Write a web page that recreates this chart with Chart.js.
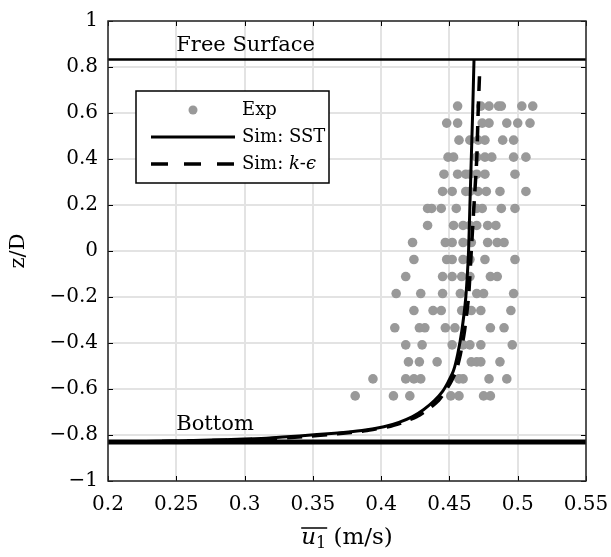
<!DOCTYPE html>
<html>
<head>
<meta charset="utf-8">
<script src="https://cdn.jsdelivr.net/npm/chart.js@4.4.1/dist/chart.umd.min.js"></script>
<style>
  html, body { margin: 0; padding: 0; background: #ffffff; }
  #wrap { width: 611px; height: 557px; }
</style>
</head>
<body>
<div id="wrap"><canvas id="c" width="611" height="557"></canvas></div>
<script>
// ---------- data ----------
const xTicks = [0.2, 0.25, 0.3, 0.35, 0.4, 0.45, 0.5, 0.55];
const yTicks = [-1, -0.8, -0.6, -0.4, -0.2, 0, 0.2, 0.4, 0.6, 0.8, 1];

// experimental rows (z/D) and velocities measured in each row
const expZ = [0.630, 0.556, 0.482, 0.408, 0.334, 0.259, 0.185, 0.111, 0.037,
              -0.037, -0.111, -0.185, -0.259, -0.334, -0.408, -0.482, -0.556, -0.630];
const expU = [
  [0.456, 0.473, 0.479, 0.486, 0.488, 0.503, 0.511],
  [0.448, 0.456, 0.474, 0.479, 0.492, 0.500, 0.509],
  [0.457, 0.465, 0.471, 0.476, 0.489, 0.497],
  [0.449, 0.453, 0.470, 0.476, 0.481, 0.497, 0.506],
  [0.446, 0.456, 0.462, 0.465, 0.470, 0.476, 0.498],
  [0.445, 0.452, 0.462, 0.465, 0.471, 0.477, 0.487, 0.506],
  [0.434, 0.437, 0.444, 0.455, 0.470, 0.474, 0.488, 0.498],
  [0.434, 0.453, 0.460, 0.465, 0.470, 0.478, 0.484],
  [0.423, 0.447, 0.452, 0.460, 0.466, 0.478, 0.485, 0.490],
  [0.424, 0.448, 0.452, 0.460, 0.465, 0.476, 0.498],
  [0.418, 0.445, 0.452, 0.459, 0.465, 0.480, 0.485],
  [0.411, 0.429, 0.445, 0.458, 0.470, 0.475, 0.497],
  [0.424, 0.438, 0.444, 0.459, 0.466, 0.473, 0.495],
  [0.410, 0.428, 0.432, 0.447, 0.454, 0.480, 0.490],
  [0.418, 0.430, 0.452, 0.460, 0.465, 0.473, 0.496],
  [0.420, 0.428, 0.441, 0.466, 0.470, 0.473, 0.487],
  [0.394, 0.418, 0.424, 0.429, 0.457, 0.460, 0.479, 0.492],
  [0.381, 0.409, 0.421, 0.451, 0.457, 0.475, 0.480]
];

// SST simulation profile
const sstZ = [0.833, 0.6, 0.4, 0.2, 0.0, -0.2, -0.35, -0.45, -0.52, -0.57, -0.61, -0.65, -0.69,
              -0.72, -0.745, -0.764, -0.78, -0.792, -0.804, -0.814, -0.819, -0.822, -0.826, -0.829, -0.83];
const sstU = [0.468, 0.467, 0.466, 0.465, 0.464, 0.462, 0.459, 0.456, 0.453, 0.449, 0.445, 0.439, 0.431,
              0.423, 0.413, 0.402, 0.386, 0.366, 0.340, 0.316, 0.295, 0.275, 0.250, 0.220, 0.200];

// k-epsilon simulation profile
const keZ = [0.76, 0.6, 0.4, 0.2, 0.0, -0.2, -0.35, -0.45, -0.52, -0.57, -0.61, -0.65, -0.69,
             -0.72, -0.745, -0.764, -0.782, -0.795, -0.807, -0.816, -0.822, -0.826, -0.829, -0.831];
const keU = [0.472, 0.471, 0.470, 0.468, 0.466, 0.464, 0.461, 0.458, 0.455, 0.451, 0.447, 0.442, 0.434,
             0.426, 0.416, 0.405, 0.388, 0.368, 0.343, 0.318, 0.290, 0.260, 0.230, 0.200];

// reference levels
const surfaceZ = 0.833;
const bottomZ = -0.83;
const levelU = [0.2, 0.55];

const seriesLabels = ['Exp', 'Sim: SST', 'Sim: k-\u03F5'];
const levelLabels = ['Free Surface', 'Bottom'];

// ---------- build ----------
const FONT = '"DejaVu Serif", "Liberation Serif", serif';
const expPts = [];
expZ.forEach((z, i) => expU[i].forEach(u => expPts.push({x: u, y: z})));
const sstPts = sstZ.map((z, i) => ({x: sstU[i], y: z}));
const kePts = keZ.map((z, i) => ({x: keU[i], y: z}));
const surfPts = levelU.map(u => ({x: u, y: surfaceZ}));
const botPts = levelU.map(u => ({x: u, y: bottomZ}));

function fmt(v) {
  const r = Math.round(v * 100) / 100;
  if (r === 0) return '0';
  const s = String(Math.abs(r));
  return (r < 0 ? '\u2212' : '') + s;
}

const boxPlugin = {
  id: 'boxPlugin',
  afterDatasetsDraw(chart) {
    const {ctx, chartArea: a, scales} = chart;
    ctx.save();
    // inward ticks
    ctx.strokeStyle = '#000';
    ctx.lineWidth = 1;
    const tl = 5;
    xTicks.forEach(v => {
      const px = Math.round(scales.x.getPixelForValue(v)) + 0.5;
      ctx.beginPath();
      ctx.moveTo(px, a.bottom); ctx.lineTo(px, a.bottom - tl);
      ctx.moveTo(px, a.top); ctx.lineTo(px, a.top + tl);
      ctx.stroke();
    });
    yTicks.forEach(v => {
      const py = Math.round(scales.y.getPixelForValue(v)) + 0.5;
      ctx.beginPath();
      ctx.moveTo(a.left, py); ctx.lineTo(a.left + tl, py);
      ctx.moveTo(a.right, py); ctx.lineTo(a.right - tl, py);
      ctx.stroke();
    });
    // frame
    ctx.lineWidth = 1.5;
    ctx.strokeStyle = '#262626';
    ctx.strokeRect(a.left, a.top, a.right - a.left, a.bottom - a.top);

    // level labels
    ctx.fillStyle = '#000';
    ctx.font = '21px ' + FONT;
    ctx.textBaseline = 'alphabetic';
    ctx.textAlign = 'left';
    const lx = scales.x.getPixelForValue(0.25);
    ctx.fillText(levelLabels[0], lx, scales.y.getPixelForValue(surfaceZ) - 8);
    ctx.fillText(levelLabels[1], lx, scales.y.getPixelForValue(bottomZ) - 12);

    // legend
    const L = 136, T = 91, R = 329, B = 183;
    ctx.fillStyle = '#fff';
    ctx.fillRect(L, T, R - L, B - T);
    ctx.strokeStyle = '#000';
    ctx.lineWidth = 1.5;
    ctx.strokeRect(L, T, R - L, B - T);
    const rows = [110, 137, 164];
    // Exp marker
    ctx.fillStyle = '#999999';
    ctx.beginPath(); ctx.arc(193, rows[0], 4.5, 0, Math.PI * 2); ctx.fill();
    // SST line
    ctx.strokeStyle = '#000';
    ctx.lineWidth = 3;
    ctx.beginPath(); ctx.moveTo(151, rows[1]); ctx.lineTo(235, rows[1]); ctx.stroke();
    // k-eps dashed
    ctx.lineWidth = 3.5;
    ctx.setLineDash([17, 16]);
    ctx.beginPath(); ctx.moveTo(151, rows[2]); ctx.lineTo(235, rows[2]); ctx.stroke();
    ctx.setLineDash([]);
    ctx.fillStyle = '#000';
    ctx.textBaseline = 'middle';
    const tx = 242;
    const fs = '18px ';
    ctx.font = fs + FONT;
    ctx.fillText(seriesLabels[0], tx, rows[0]);
    ctx.fillText(seriesLabels[1], tx, rows[1]);
    // "Sim: k-ϵ" with italic k and ϵ
    let x = tx;
    const parts = [['Sim: ', ''], ['k', 'italic '], ['-', ''], ['\u03F5', 'italic ']];
    parts.forEach(p => {
      ctx.font = p[1] + fs + FONT;
      ctx.fillText(p[0], x, rows[2]);
      x += ctx.measureText(p[0]).width;
    });

    // x-axis title: overline u with subscript 1, (m/s)
    const cx = (a.left + a.right) / 2;
    const base = 544;
    ctx.textBaseline = 'alphabetic';
    ctx.font = 'italic 23px ' + FONT;
    const wu = ctx.measureText('u').width;
    ctx.font = '16px ' + FONT;
    const w1 = ctx.measureText('1').width;
    ctx.font = '23px ' + FONT;
    const wr = ctx.measureText(' (m/s)').width;
    let sx = cx - (wu + w1 + wr) / 2;
    ctx.font = 'italic 23px ' + FONT;
    ctx.fillText('u', sx, base);
    ctx.font = '16px ' + FONT;
    ctx.fillText('1', sx + wu, base + 4);
    ctx.lineWidth = 1.5;
    ctx.beginPath(); ctx.moveTo(sx, base - 16); ctx.lineTo(sx + wu + w1 + 1, base - 16); ctx.stroke();
    ctx.font = '23px ' + FONT;
    ctx.fillText(' (m/s)', sx + wu + w1, base);
    ctx.restore();
  }
};

new Chart(document.getElementById('c'), {
  type: 'scatter',
  data: {
    datasets: [
      {label: 'surface', data: surfPts, showLine: true, borderColor: '#000', borderWidth: 2.5, pointRadius: 0},
      {label: 'bottom', data: botPts, showLine: true, borderColor: '#000', borderWidth: 5, pointRadius: 0},
      {label: seriesLabels[1], data: sstPts, showLine: true, borderColor: '#000', borderWidth: 3, pointRadius: 0, tension: 0.2},
      {label: seriesLabels[2], data: kePts, showLine: true, borderColor: '#000', borderWidth: 3.5, borderDash: [15, 10], pointRadius: 0, tension: 0.2},
      {label: seriesLabels[0], data: expPts, backgroundColor: '#999999', borderColor: '#999999', pointRadius: 4.8, pointBorderWidth: 0}
    ]
  },
  options: {
    responsive: false,
    animation: false,
    clip: false,
    layout: {padding: {left: 0, right: 25, top: 21, bottom: 0}},
    plugins: {legend: {display: false}, tooltip: {enabled: false}},
    scales: {
      x: {
        type: 'linear', min: 0.2, max: 0.55,
        afterBuildTicks: s => { s.ticks = xTicks.map(v => ({value: v})); },
        afterFit: s => { s.height = 76; s.paddingLeft = 0; s.paddingRight = 0; },
        grid: {color: '#e3e3e3', lineWidth: 2, drawTicks: false},
        border: {display: false},
        ticks: {padding: 12, color: '#000', font: {family: FONT, size: 20}, callback: v => fmt(v), maxRotation: 0, autoSkip: false}
      },
      y: {
        type: 'linear', min: -1, max: 1,
        afterBuildTicks: s => { s.ticks = yTicks.map(v => ({value: v})); },
        afterFit: s => { s.width = 108; s.paddingTop = 0; s.paddingBottom = 0; },
        grid: {color: '#e3e3e3', lineWidth: 2, drawTicks: false},
        border: {display: false},
        ticks: {padding: 10, color: '#000', font: {family: FONT, size: 20}, callback: v => fmt(v), autoSkip: false},
        title: {display: true, text: 'z/D', color: '#000', font: {family: FONT, size: 21}, padding: {top: 6, bottom: 0}}
      }
    }
  },
  plugins: [boxPlugin]
});
</script>
</body>
</html>
